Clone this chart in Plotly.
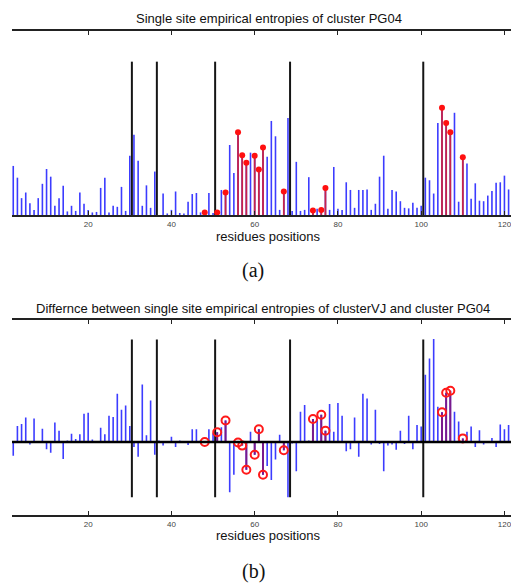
import plotly.graph_objects as go

# ---------------- data ----------------
positions = list(range(2, 124))

entropy_pg04 = [
    0.96, 0.73, 0.33, 0.44, 0.23, 0.10, 0.33, 0.61, 0.90, 0.75,   # 2-11
    0.18, 0.33, 0.57, 0.07, 0.18, 0.08, 0.44, 0.22, 0.10, 0.05,   # 12-21
    0.06, 0.53, 0.73, 0.05, 0.18, 0.16, 0.55, 0.08, 1.16, 1.57,   # 22-31
    1.06, 0.18, 0.58, 0.14, 0.85, 0.00, 0.42, 0.03, 0.10, 0.46,   # 32-41
    0.04, 0.03, 0.26, 0.41, 0.43, 0.05, 0.05, 0.43, 0.04, 0.05,   # 42-51
    0.49, 0.44, 1.37, 0.82, 1.62, 1.17, 1.02, 1.22, 1.16, 0.89,   # 52-61
    1.32, 1.14, 1.84, 1.54, 0.10, 0.46, 1.90, 0.08, 1.04, 0.08,   # 62-71
    0.10, 0.74, 0.09, 0.12, 0.10, 0.53, 0.10, 0.94, 0.12, 0.10,   # 72-81
    0.64, 0.49, 0.14, 0.49, 0.49, 0.50, 0.10, 0.22, 0.75, 1.16,   # 82-91
    0.12, 0.49, 0.46, 0.27, 0.14, 0.13, 0.24, 0.14, 0.18, 0.73,   # 92-101
    0.68, 0.42, 1.80, 2.10, 1.80, 1.62, 2.00, 0.26, 1.13, 1.01,   # 102-111
    0.32, 0.62, 0.28, 0.27, 0.38, 0.47, 0.63, 0.64, 0.77, 0.50,   # 112-121
    0.53, 0.49,                                                   # 122-123
]

entropy_diff = [
    -0.27, 0.31, 0.35, 0.48, -0.05, 0.46, 0.00, 0.26, -0.14, -0.21,   # 2-11
    0.38, 0.22, -0.33, 0.03, 0.16, 0.06, 0.15, 0.55, 0.57, 0.05,      # 12-21
    0.01, 0.28, 0.15, 0.51, 0.49, 0.94, 0.63, 0.71, 0.31, -0.10,      # 22-31
    -0.29, 1.12, 0.13, 0.81, -0.25, 0.03, -0.07, 0.00, 0.10, -0.10,   # 32-41
    0.03, 0.00, -0.06, 0.25, 0.25, 0.04, 0.00, 0.25, 0.17, 0.19,      # 42-51
    0.29, 0.42, -0.98, -0.64, -0.01, -0.07, -0.54, 0.20, -0.25, 0.25, # 52-61
    -0.64, -0.47, -0.74, -0.34, 0.14, -0.16, -1.08, -0.03, -0.57, 0.59, # 62-71
    0.72, 0.03, 0.45, 0.45, 0.53, 0.22, 0.74, 0.20, 0.76, 0.51,       # 72-81
    -0.18, -0.14, 0.48, -0.29, 0.94, 0.85, -0.05, 0.63, -0.04, -0.57, # 82-91
    -0.07, -0.05, -0.15, 0.22, -0.04, 0.51, -0.14, 0.33, 0.30, 1.31,  # 92-101
    1.63, 2.01, 0.69, 0.58, 0.96, 1.00, 0.59, 0.40, 0.07, 0.20,       # 102-111
    0.30, -0.10, 0.23, -0.05, 0.00, 0.08, -0.10, 0.34, 0.25, 0.33,    # 112-121
    0.47, 0.25,                                                       # 122-123
]

highlighted = [48, 51, 53, 56, 57, 58, 60, 61, 62, 67, 74, 76, 77, 105, 106, 107, 110]

separators = [30.5, 36.5, 50.5, 68.5, 100.5]
sep_top_range = [0.0, 3.0]
sep_bottom_range = [-1.08, 2.0]

tick_vals = [20, 40, 60, 80, 100, 120]
x_range = [1.7, 123.5]

title_a = "Single site empirical entropies of cluster PG04"
title_b = "Differnce between single site empirical entropies of clusterVJ and cluster PG04"
x_label = "residues positions"

# ---------------- helpers ----------------
def stems(xs, ys):
    sx, sy = [], []
    for x, y in zip(xs, ys):
        sx += [x, x, None]
        sy += [0, y, None]
    return sx, sy

def vsegs(xs, lo, hi):
    sx, sy = [], []
    for x in xs:
        sx += [x, x, None]
        sy += [lo, hi, None]
    return sx, sy

val_a = dict(zip(positions, entropy_pg04))
val_b = dict(zip(positions, entropy_diff))
hl_a = [val_a[p] for p in highlighted]
hl_b = [val_b[p] for p in highlighted]

BLUE = "rgb(60,60,255)"
FONT = "Liberation Sans, Arial, sans-serif"
SERIF = "Liberation Serif, DejaVu Serif, serif"

# page is rendered with an 8px body margin -> figure size / positions compensate
W, H, OFF = 511, 579, 8

def px(x):
    return (x - OFF) / W

def py(y):
    return 1 - (y - OFF) / H

fig = go.Figure()

# ---- panel (a)
sx, sy = stems(positions, entropy_pg04)
fig.add_trace(go.Scatter(x=sx, y=sy, mode="lines", line=dict(color=BLUE, width=1.6),
                         xaxis="x", yaxis="y", hoverinfo="skip"))
sx, sy = stems(highlighted, hl_a)
fig.add_trace(go.Scatter(x=sx, y=sy, mode="lines", line=dict(color="#c8234a", width=1.8),
                         xaxis="x", yaxis="y", hoverinfo="skip"))
sx, sy = vsegs(separators, *sep_top_range)
fig.add_trace(go.Scatter(x=sx, y=sy, mode="lines", line=dict(color="#151515", width=2),
                         xaxis="x", yaxis="y", hoverinfo="skip"))
fig.add_trace(go.Scatter(x=highlighted, y=hl_a, mode="markers",
                         marker=dict(color="#ff1010", size=6, line=dict(width=0)),
                         xaxis="x", yaxis="y"))

# ---- panel (b)
sx, sy = stems(positions, entropy_diff)
fig.add_trace(go.Scatter(x=sx, y=sy, mode="lines", line=dict(color=BLUE, width=1.6),
                         xaxis="x2", yaxis="y2", hoverinfo="skip"))
sx, sy = stems(highlighted, hl_b)
fig.add_trace(go.Scatter(x=sx, y=sy, mode="lines", line=dict(color="#7a1a8c", width=2),
                         xaxis="x2", yaxis="y2", hoverinfo="skip"))
sx, sy = vsegs(separators, *sep_bottom_range)
fig.add_trace(go.Scatter(x=sx, y=sy, mode="lines", line=dict(color="#151515", width=2),
                         xaxis="x2", yaxis="y2", hoverinfo="skip"))
fig.add_trace(go.Scatter(x=highlighted, y=hl_b, mode="markers",
                         marker=dict(symbol="circle-open", color="#ff1a1a", size=8,
                                     line=dict(width=2, color="#ff1a1a")),
                         xaxis="x2", yaxis="y2"))

axis_common = dict(range=x_range, tickvals=tick_vals, ticks="inside", ticklen=4,
                   tickwidth=1.2, tickcolor="#222", showline=True, linewidth=2,
                   linecolor="#222", mirror="ticks", showgrid=False, zeroline=False,
                   tickfont=dict(size=8, color="#444", family=FONT))
yaxis_common = dict(showline=False, showgrid=False, zeroline=False,
                    showticklabels=False, ticks="")

def label(text, x, y, size, family):
    return dict(text=text, x=px(x), y=py(y), xref="paper", yref="paper",
                xanchor="center", yanchor="middle", showarrow=False,
                font=dict(size=size, color="#111", family=family))

fig.update_layout(
    width=W, height=H,
    margin=dict(l=12 - OFF, r=0, t=0, b=0),
    paper_bgcolor="white", plot_bgcolor="white",
    showlegend=False,
    xaxis=dict(domain=[0, 1], anchor="y", **axis_common),
    yaxis=dict(domain=[py(215), py(31)], range=[0, 3.6], anchor="x", **yaxis_common),
    xaxis2=dict(domain=[0, 1], anchor="y2", **axis_common),
    yaxis2=dict(domain=[py(515.3), py(320)], range=[-1.43, 2.38], anchor="x2", **yaxis_common),
    shapes=[dict(type="line", xref="x2 domain", yref="y2", x0=0, x1=1, y0=0, y1=0,
                 line=dict(color="black", width=2.5), layer="above")],
    annotations=[
        label(title_a, 267, 19, 13, FONT),
        label(x_label, 267, 236, 13, FONT),
        label("(a)", 251, 270, 20, SERIF),
        label(title_b, 261, 308, 13, FONT),
        label(x_label, 267, 535, 13, FONT),
        label("(b)", 251, 571, 20, SERIF),
    ],
)

fig.write_html("out.html")
